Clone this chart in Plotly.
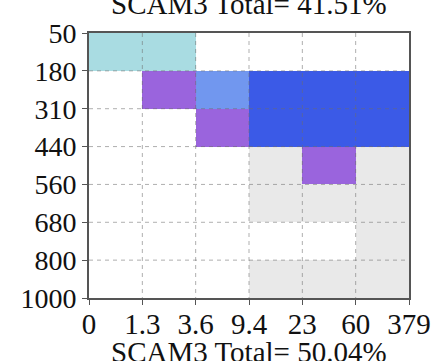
import plotly.graph_objects as go

# Optical-depth bin edges (x) and cloud-top pressure bin edges (y, hPa)
tau_edges = ["0", "1.3", "3.6", "9.4", "23", "60", "379"]
ptop_edges = ["50", "180", "310", "440", "560", "680", "800", "1000"]

# Frequency class per cell, rows top (50 hPa) to bottom (1000 hPa)
# 0 = none, 1 = low, 2 = moderate, 3 = high, 4 = higher, 5 = highest
freq_class = [
    [2, 2, 0, 0, 0, 0],
    [0, 3, 4, 5, 5, 5],
    [0, 0, 3, 5, 5, 5],
    [0, 0, 0, 1, 3, 1],
    [0, 0, 0, 1, 1, 1],
    [0, 0, 0, 0, 0, 1],
    [0, 0, 0, 1, 1, 1],
]

top_title = "SCAM3 Total= 41.51%"
bottom_title = "SCAM3 Total= 50.04%"

class_colors = ["#ffffff", "#e9e9e9", "#a9dce2", "#9a64dd", "#7197ef", "#3b5ae7"]
n = len(class_colors)
colorscale = []
for i, c in enumerate(class_colors):
    colorscale.append([i / n, c])
    colorscale.append([(i + 1) / n, c])

nx = len(tau_edges) - 1
ny = len(ptop_edges) - 1

fig = go.Figure(
    go.Heatmap(
        z=freq_class,
        x=[i + 0.5 for i in range(nx)],
        y=[j + 0.5 for j in range(ny)],
        zmin=-0.5,
        zmax=n - 0.5,
        colorscale=colorscale,
        showscale=False,
        hoverinfo="skip",
    )
)

# dashed grid on top of the cells
grid = dict(color="rgba(110,110,110,0.55)", width=1, dash="4px,4px")
for i in range(1, nx):
    fig.add_shape(type="line", x0=i, x1=i, y0=0, y1=ny, xref="x", yref="y",
                  line=grid, layer="above")
for j in range(1, ny):
    fig.add_shape(type="line", x0=0, x1=nx, y0=j, y1=j, xref="x", yref="y",
                  line=grid, layer="above")

serif = "Times New Roman, Liberation Serif, Times, serif"
fig.update_layout(
    width=443,
    height=361,
    margin=dict(l=89, r=30, t=33, b=63),
    paper_bgcolor="white",
    plot_bgcolor="white",
    font=dict(family=serif, color="#111111"),
    showlegend=False,
    xaxis=dict(
        range=[0, nx],
        tickvals=list(range(nx + 1)),
        ticktext=tau_edges,
        tickfont=dict(size=29, family=serif),
        ticks="outside",
        ticklen=5,
        ticklabelstandoff=-6,
        tickcolor="#555555",
        showgrid=False,
        zeroline=False,
        showline=True,
        linecolor="#555555",
        linewidth=2,
        mirror=True,
        layer="above traces",
    ),
    yaxis=dict(
        range=[ny, 0],
        tickvals=list(range(ny + 1)),
        ticktext=ptop_edges,
        tickfont=dict(size=28, family=serif),
        ticks="outside",
        ticklen=5,
        tickcolor="#555555",
        showgrid=False,
        zeroline=False,
        showline=True,
        linecolor="#555555",
        linewidth=2,
        mirror=True,
        layer="above traces",
    ),
    annotations=[
        dict(text=top_title, x=0.5, y=1, xref="paper", yref="paper",
             xanchor="center", yanchor="bottom", yshift=11, showarrow=False,
             font=dict(size=29, family=serif, color="#111111")),
        dict(text=bottom_title, x=0.5, y=0, xref="paper", yref="paper",
             xanchor="center", yanchor="top", yshift=-36, showarrow=False,
             font=dict(size=29, family=serif, color="#111111")),
    ],
)

fig.write_html("out.html")
